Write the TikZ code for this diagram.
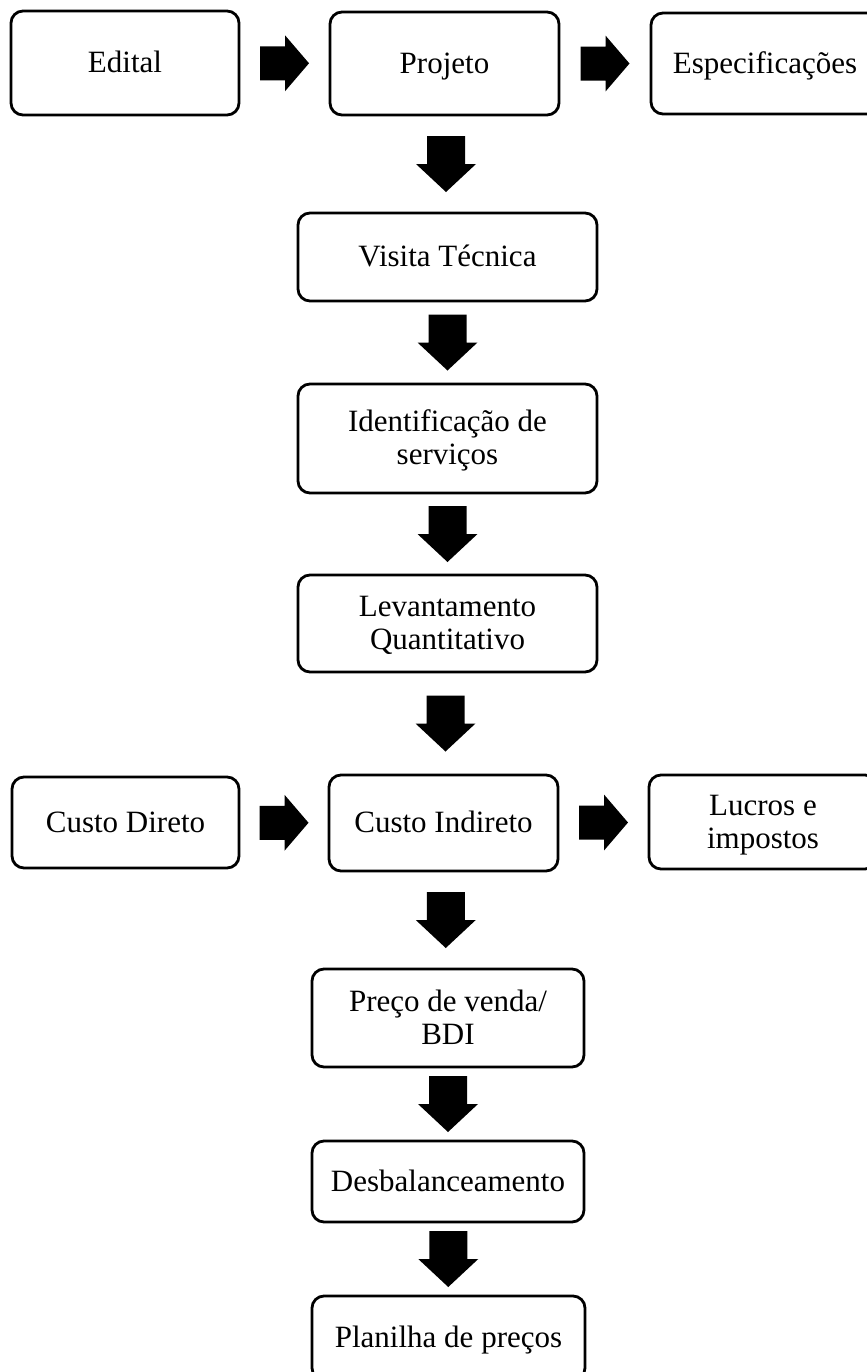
\documentclass[tikz,border=0pt]{standalone}
\usepackage{fontspec}
\setmainfont{Liberation Serif}
\usetikzlibrary{calc}
\newcommand\mystrut{\rule[-3.5pt]{0pt}{16.5pt}}
\tikzset{
  box/.style={draw, rounded corners=6pt, line width=1.4pt, align=center,
    inner sep=0pt, font=\fontsize{15.5}{16.5}\selectfont},
  downblk/.pic={\fill (-19,-28) -- (19,-28) -- (19,0) -- (30,0) -- (0,28) -- (-30,0) -- (-19,0) -- cycle;},
  rightblk/.pic={\fill (-24.5,-17) -- (0.5,-17) -- (0.5,-28) -- (24.5,0) -- (0.5,28) -- (0.5,17) -- (-24.5,17) -- cycle;}
}
\begin{document}
\begin{tikzpicture}[x=0.5pt,y=-0.5pt]
\useasboundingbox (0,0) rectangle (867,1372);
\clip (0,0) rectangle (867,1372);
\fill[white] (0,0) rectangle (867,1372);
% top row
\node[box, minimum width=114pt, minimum height=52pt] (edital) at (125,63) {\mystrut Edital};
\node[box, minimum width=114.5pt, minimum height=51.5pt] (projeto) at (444.5,63.5) {\mystrut Projeto};
\node[box, minimum width=114pt, minimum height=50.5pt] (espec) at (765,63.5) {\mystrut Especificações};
% column
\node[box, minimum width=149.5pt, minimum height=44pt] (visita) at (447.5,257) {\mystrut Visita Técnica};
\node[box, minimum width=149.5pt, minimum height=54.5pt] (ident) at (447.5,438.5) {\mystrut Identificação de\\\mystrut serviços};
\node[box, minimum width=149.5pt, minimum height=48.5pt] (levant) at (447.5,623.5) {\mystrut Levantamento\\\mystrut Quantitativo};
% cost row
\node[box, minimum width=113.5pt, minimum height=45.5pt] (cdir) at (125.5,822.5) {\mystrut Custo Direto};
\node[box, minimum width=114.5pt, minimum height=48pt] (cind) at (443.5,823) {\mystrut Custo Indireto};
\node[box, minimum width=114pt, minimum height=47pt] (lucros) at (763,822) {\mystrut Lucros e\\\mystrut impostos};
% bottom column
\node[box, minimum width=136pt, minimum height=49pt] (preco) at (448,1018) {\mystrut Preço de venda/\\\mystrut BDI};
\node[box, minimum width=136pt, minimum height=40.5pt] (desbal) at (448,1181.5) {\mystrut Desbalanceamento};
\node[box, minimum width=136.5pt, minimum height=42pt] (planilha) at (448.5,1338) {\mystrut Planilha de preços};
% block arrows
\path ($(edital.east)!0.5!(projeto.west)$) pic{rightblk};
\path ($(projeto.east)!0.5!(espec.west)$) pic{rightblk};
\path ($(cdir.east)!0.5!(cind.west)$) pic{rightblk};
\path ($(cind.east)!0.5!(lucros.west)$) pic{rightblk};
\path ($(projeto.south)!0.5!(visita.north)$) pic{downblk};
\path ($(visita.south)!0.5!(ident.north)$) pic{downblk};
\path ($(ident.south)!0.5!(levant.north)$) pic{downblk};
\path ($(levant.south)!0.5!(cind.north)$) pic{downblk};
\path ($(cind.south)!0.5!(preco.north)$) pic{downblk};
\path ($(preco.south)!0.5!(desbal.north)$) pic{downblk};
\path ($(desbal.south)!0.5!(planilha.north)$) pic{downblk};
\end{tikzpicture}
\end{document}
